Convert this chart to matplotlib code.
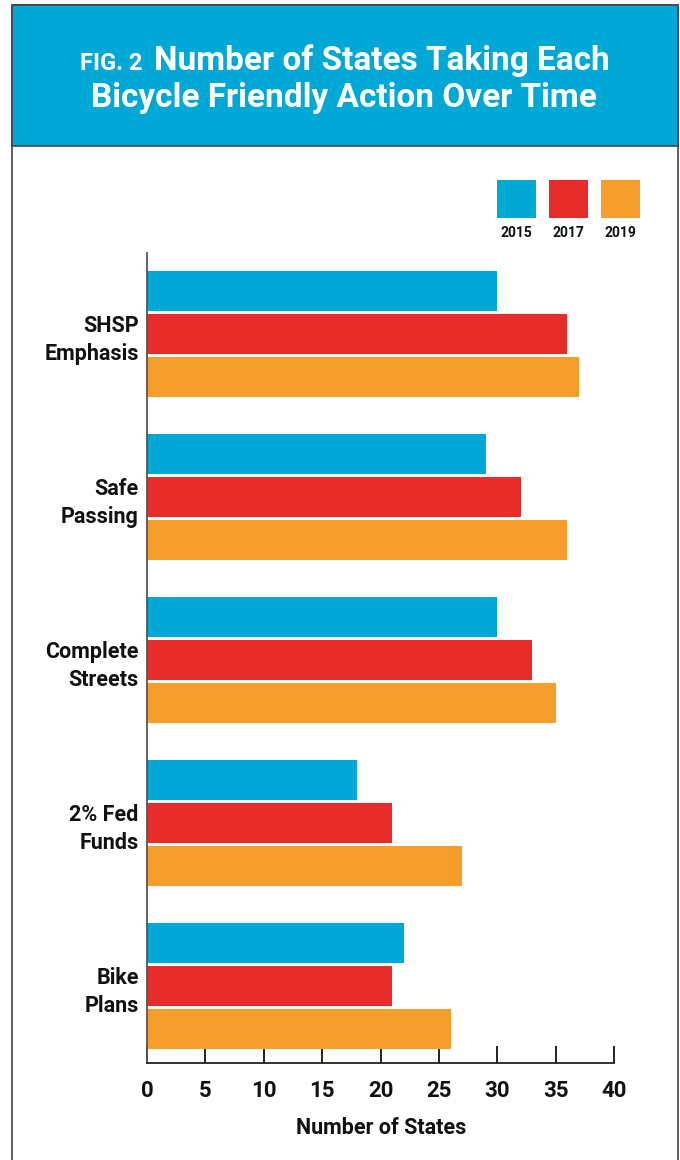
import matplotlib.pyplot as plt
import numpy as np
from matplotlib.patches import Rectangle

# data
actions = ["SHSP\nEmphasis", "Safe\nPassing", "Complete\nStreets", "2% Fed\nFunds", "Bike\nPlans"]
years = ["2015", "2017", "2019"]
states_2015 = [30, 29, 30, 18, 22]
states_2017 = [36, 32, 33, 21, 21]
states_2019 = [37, 36, 35, 27, 26]
x_ticks = [0, 5, 10, 15, 20, 25, 30, 35, 40]

colors = ["#00A8D5", "#E82C2A", "#F79D2B"]
header_blue = "#00A8D5"
FONT = "Roboto"

W, H = 680, 1160
fig = plt.figure(figsize=(W / 100, H / 100), dpi=100)

def fx(px):
    return px / W

def fy(py):
    return 1 - py / H

# frame + header band
fig.patches.append(Rectangle((fx(12), fy(1162)), fx(666), 1157 / H, transform=fig.transFigure,
                             facecolor="white", edgecolor="#444444", lw=1.2, zorder=0))
fig.patches.append(Rectangle((fx(12), fy(146)), fx(666), 141 / H, transform=fig.transFigure,
                             facecolor=header_blue, edgecolor="#444444", lw=1.2, zorder=1))

fig.text(fx(142), fy(63), "FIG. 2", color="white", fontsize=17, fontweight="bold",
         family=FONT, ha="right", va="center", zorder=4)
fig.text(fx(382), fy(61), "Number of States Taking Each", color="white", fontsize=24,
         fontweight="bold", family=FONT, ha="center", va="center", zorder=4)
fig.text(fx(344), fy(98), "Bicycle Friendly Action Over Time", color="white", fontsize=24,
         fontweight="bold", family=FONT, ha="center", va="center", zorder=4)

# legend
for i, (yr, c) in enumerate(zip(years, colors)):
    x0 = 497 + i * 52
    fig.patches.append(Rectangle((fx(x0), fy(218)), fx(39), 38 / H, transform=fig.transFigure,
                                 facecolor=c, edgecolor="none", zorder=2))
    fig.text(fx(x0 + 19.5), fy(233), yr, fontsize=10, fontweight="bold", family=FONT,
             ha="center", va="center", color="#111111", zorder=4)

# axes
ax = fig.add_axes([fx(147), fy(1063), fx(614) - fx(147), (1063 - 253) / H])
ax.set_zorder(5)
ax.patch.set_visible(False)
pos = np.arange(len(actions))
h = 0.245
step = 0.264
for k, vals in enumerate([states_2015, states_2017, states_2019]):
    ax.barh(pos + (k - 1) * step, vals, height=h, color=colors[k], zorder=2)

ax.set_xlim(0, 40)
ax.set_ylim(4.472, -0.497)
ax.set_xticks(x_ticks)
ax.set_xticklabels([str(t) for t in x_ticks], fontsize=16, fontweight="bold", family=FONT)
ax.set_yticks(pos)
ax.set_yticklabels(actions, fontsize=15.5, fontweight="bold", family=FONT, linespacing=1.4)
ax.tick_params(axis="x", direction="in", length=12, width=1.3, pad=12, colors="#111111")
ax.tick_params(axis="y", length=0, pad=6, colors="#111111")
for s in ["top", "right"]:
    ax.spines[s].set_visible(False)
ax.spines["left"].set_color("#555555")
ax.spines["left"].set_linewidth(1.3)
ax.spines["bottom"].set_color("#222222")
ax.spines["bottom"].set_linewidth(1.3)

fig.text(fx(381), fy(1128), "Number of States", fontsize=15.5, fontweight="bold", family=FONT,
         ha="center", va="center", color="#111111", zorder=4)

fig.savefig("out.png", dpi=100)
